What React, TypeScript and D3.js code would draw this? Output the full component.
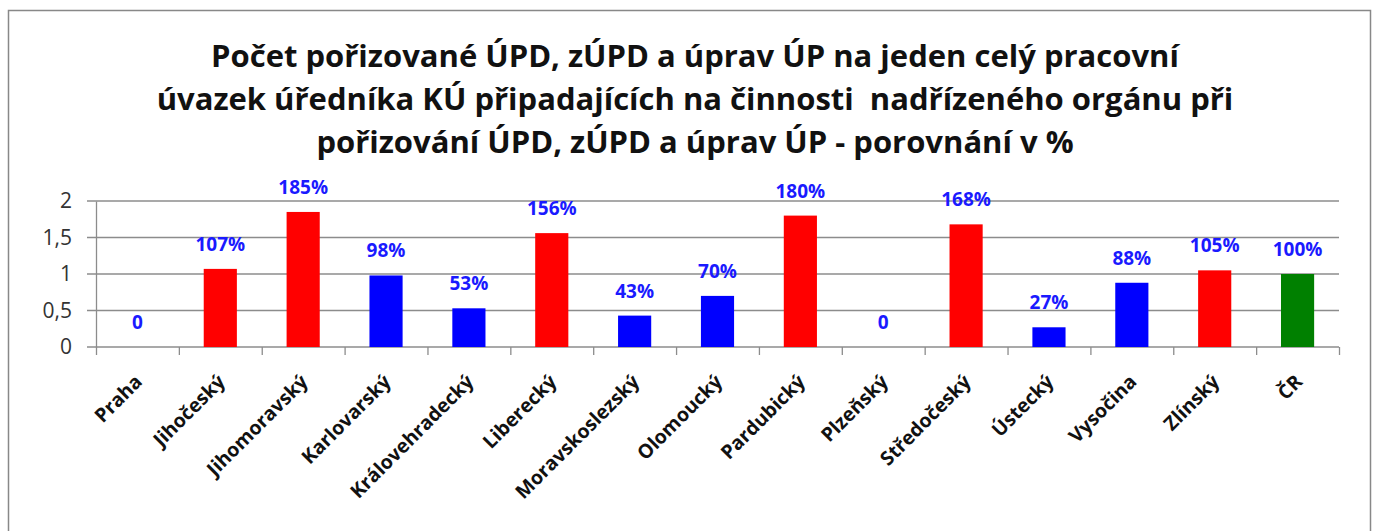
import { useEffect, useRef } from "react";
import * as d3 from "d3";

const categories = [
  "Praha", "Jihočeský", "Jihomoravský", "Karlovarský", "Královehradecký",
  "Liberecký", "Moravskoslezský", "Olomoucký", "Pardubický", "Plzeňský",
  "Středočeský", "Ústecký", "Vysočina", "Zlínský", "ČR",
];
const values = [0, 1.07, 1.85, 0.98, 0.53, 1.56, 0.43, 0.7, 1.8, 0, 1.68, 0.27, 0.88, 1.05, 1.0];
const percentLabels = ["0", "107%", "185%", "98%", "53%", "156%", "43%", "70%", "180%", "0", "168%", "27%", "88%", "105%", "100%"];
const barColors = ["#0000FF", "#FF0000", "#FF0000", "#0000FF", "#0000FF", "#FF0000", "#0000FF", "#0000FF", "#FF0000", "#0000FF", "#FF0000", "#0000FF", "#0000FF", "#FF0000", "#008000"];
const yTicks = [0, 0.5, 1, 1.5, 2];
const titleLines = [
  "Počet pořizované ÚPD, zÚPD a úprav ÚP na jeden celý pracovní",
  "úvazek úředníka KÚ připadajících na činnosti  nadřízeného orgánu při",
  "pořizování ÚPD, zÚPD a úprav ÚP - porovnání v %",
];

const App = () => {
  const ref = useRef<SVGSVGElement>(null);

  useEffect(() => {
    const width = 1373;
    const height = 531;
    const margin = { top: 201, right: 33, bottom: 184, left: 96 };
    const font = "'Open Sans', sans-serif";

    const svg = d3.select(ref.current);
    svg.selectAll("*").remove();

    // cadre
    svg.append("rect")
      .attr("x", 8.5).attr("y", 10.5)
      .attr("width", 1362).attr("height", 540)
      .attr("fill", "#fff").attr("stroke", "#888").attr("stroke-width", 1.5);

    // titre
    svg.append("g").selectAll("text")
      .data(titleLines)
      .enter().append("text")
      .attr("x", 695)
      .attr("y", (_, i) => 67 + i * 43)
      .attr("text-anchor", "middle")
      .attr("font-family", font)
      .attr("font-weight", "bold")
      .attr("font-size", 31)
      .attr("fill", "#111")
      .style("white-space", "pre")
      .text(d => d);

    const x = d3.scaleBand()
      .domain(categories)
      .range([margin.left, width - margin.right - 1])
      .paddingInner(0.6)
      .paddingOuter(0.3);

    const y = d3.scaleLinear()
      .domain([0, 2])
      .range([height - margin.bottom, margin.top]);

    // grille
    svg.append("g").selectAll("line")
      .data(yTicks)
      .enter().append("line")
      .attr("x1", margin.left - 9)
      .attr("x2", width - margin.right - 1)
      .attr("y1", d => y(d)).attr("y2", d => y(d))
      .attr("stroke", "#8c8c8c").attr("stroke-width", 1.3);

    // axe Y
    const yAxis = svg.append("g")
      .attr("transform", `translate(${margin.left},0)`)
      .call(d3.axisLeft(y).tickValues(yTicks).tickSize(0).tickPadding(24)
        .tickFormat(d => String(d).replace(".", ",")));
    yAxis.select(".domain").attr("stroke", "#8c8c8c").attr("stroke-width", 1.3);
    yAxis.selectAll("text")
      .attr("font-family", font).attr("font-size", 21).attr("fill", "#333");

    // axe X
    const step = x.step();
    const xAxisG = svg.append("g")
      .attr("transform", `translate(0,${y(0)})`);
    xAxisG.selectAll("line")
      .data(d3.range(categories.length + 1))
      .enter().append("line")
      .attr("x1", i => margin.left + i * step + 0.5)
      .attr("x2", i => margin.left + i * step + 0.5)
      .attr("y1", 0).attr("y2", 8)
      .attr("stroke", "#8c8c8c").attr("stroke-width", 1.3);

    // barres
    svg.append("g").selectAll("rect")
      .data(values)
      .enter().append("rect")
      .attr("x", (_, i) => x(categories[i]))
      .attr("y", d => y(d))
      .attr("width", x.bandwidth())
      .attr("height", d => y(0) - y(d))
      .attr("fill", (_, i) => barColors[i]);

    // étiquettes
    svg.append("g").selectAll("text")
      .data(values)
      .enter().append("text")
      .attr("x", (_, i) => x(categories[i]) + x.bandwidth() / 2)
      .attr("y", d => y(d) - 18)
      .attr("text-anchor", "middle")
      .attr("font-family", font)
      .attr("font-weight", "bold")
      .attr("font-size", 19)
      .attr("fill", "#1a1aff")
      .text((_, i) => percentLabels[i]);

    // catégories
    svg.append("g").selectAll("text")
      .data(categories)
      .enter().append("text")
      .attr("transform", d => `translate(${x(d) + x.bandwidth() / 2 + 6},${y(0) + 36}) rotate(-45)`)
      .attr("text-anchor", "end")
      .attr("font-family", font)
      .attr("font-weight", "bold")
      .attr("font-size", 19.5)
      .attr("fill", "#111")
      .text(d => d);
  }, []);

  return (
    <svg ref={ref} width={1373} height={531}
      style={{ position: "absolute", left: 0, top: 0 }} />
  );
};

export default App;
